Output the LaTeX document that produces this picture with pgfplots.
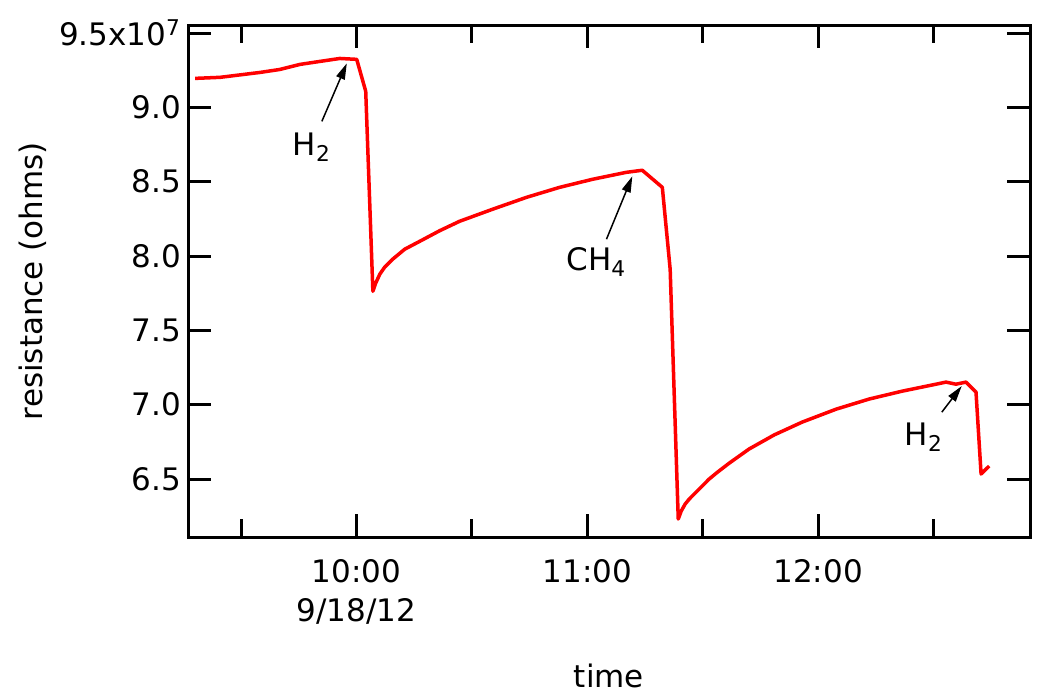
\documentclass[border=0pt]{standalone}
\usepackage{fontspec}
\setmainfont{DejaVu Sans}
\usepackage{pgfplots}
\pgfplotsset{compat=1.18}
\usetikzlibrary{arrows.meta}

% time in hours, resistance in units of 1e7 ohms
\pgfplotstableread{
t       r
9.301   9.195
9.409   9.202
9.582   9.235
9.668   9.255
9.755   9.289
9.841   9.309
9.928   9.329
10.001  9.323
10.040  9.108
10.071  7.763
10.083  7.817
10.101  7.878
10.122  7.925
10.157  7.979
10.209  8.046
10.274  8.099
10.360  8.170
10.447  8.234
10.590  8.315
10.737  8.395
10.880  8.462
11.022  8.516
11.169  8.563
11.238  8.577
11.325  8.462
11.359  7.911
11.394  6.231
11.407  6.285
11.424  6.332
11.442  6.366
11.463  6.399
11.485  6.433
11.528  6.500
11.563  6.545
11.615  6.607
11.701  6.702
11.810  6.797
11.931  6.883
12.078  6.970
12.221  7.038
12.364  7.091
12.511  7.138
12.554  7.152
12.597  7.138
12.641  7.152
12.684  7.085
12.706  6.534
12.741  6.587
}\resdata

\begin{document}
\begin{tikzpicture}[font=\fontsize{15.5}{18}\selectfont]
\useasboundingbox (-94pt,-80.5pt) rectangle (432pt,268.5pt);
\begin{axis}[
  at={(0,0)}, anchor=south west,
  scale only axis, width=421pt, height=256pt,
  xmin=9.270, xmax=12.918, ymin=6.11, ymax=9.554,
  axis line style={line width=1.5pt},
  every tick/.style={line width=1.5pt, black},
  major tick length=11.5pt, minor tick length=9pt,
  tick align=inside,
  xtick={10,11,12}, minor xtick={9.5,10.5,11.5,12.5},
  xticklabels={10:00,11:00,12:00},
  xticklabel style={yshift=-7.5pt},
  ytick={6.5,7.0,7.5,8.0,8.5,9.0,9.5},
  yticklabels={6.5,7.0,7.5,8.0,8.5,9.0,9.5x10\textsuperscript{7}},
  xlabel={time}, ylabel={resistance (ohms)},
  every axis x label/.style={at={(axis description cs:0.5,-0.2715)}, anchor=center},
  every axis y label/.style={at={(axis description cs:-0.184,0.5)}, rotate=90, anchor=center},
]
\addplot[red, line width=1.75pt, line join=round] table[x=t, y=r] {\resdata};

\draw[line width=0.75pt, -{Triangle[length=8pt,width=4.5pt]}] (axis cs:9.850,8.906) -- (axis cs:9.958,9.296);
\node at (axis cs:9.807,8.731) {H\textsubscript{2}};
\draw[line width=0.75pt, -{Triangle[length=8pt,width=4.5pt]}] (axis cs:11.083,8.113) -- (axis cs:11.195,8.536);
\node at (axis cs:11.039,7.958) {CH\textsubscript{4}};
\draw[line width=0.75pt, -{Triangle[length=8pt,width=4.5pt]}] (axis cs:12.536,6.950) -- (axis cs:12.622,7.125);
\node at (axis cs:12.458,6.782) {H\textsubscript{2}};
\end{axis}
% date under the 10:00 tick
\node at (84.2pt,-37pt) {9/18/12};
\end{tikzpicture}
\end{document}
